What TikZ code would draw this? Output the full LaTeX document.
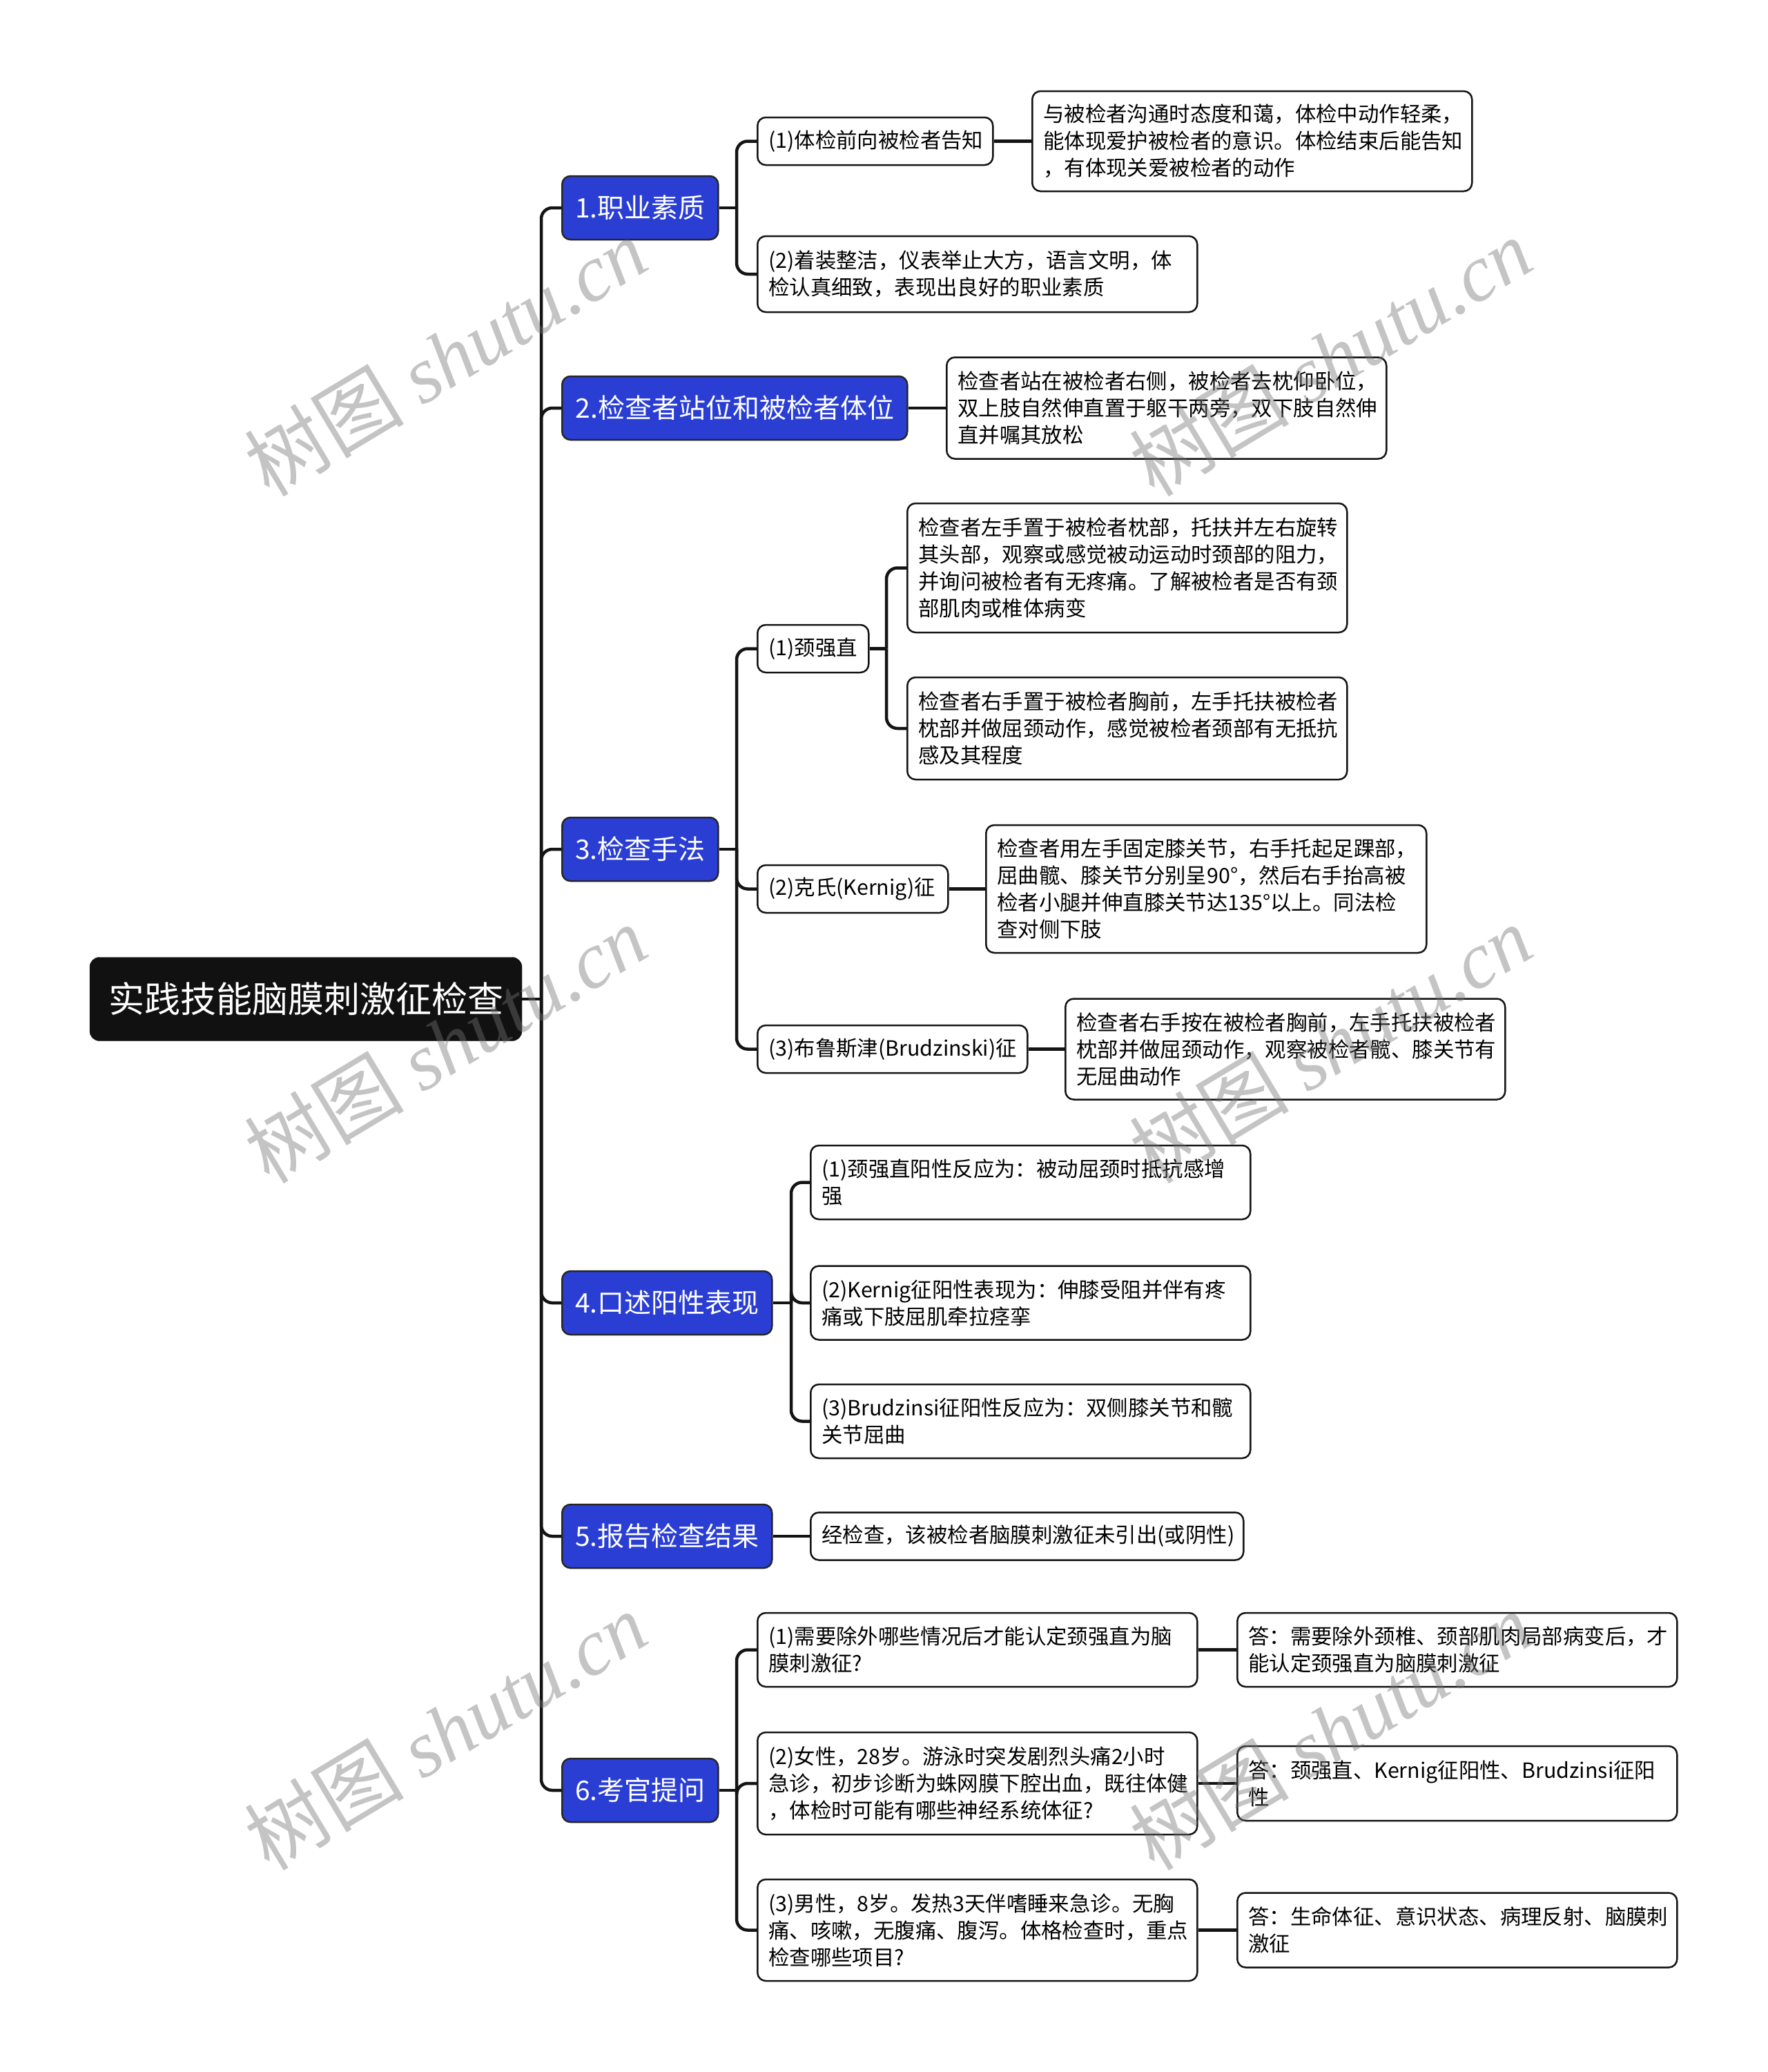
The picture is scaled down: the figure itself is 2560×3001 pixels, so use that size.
\documentclass[tikz,border=0pt]{standalone}
\usepackage{fontspec}
\usetikzlibrary{backgrounds}
\setmainfont{Noto Sans CJK SC}
\newfontfamily\wmserif{Liberation Serif}
\newfontfamily\wmcjk{Noto Sans CJK SC}
\definecolor{blueN}{RGB}{42,62,212}
\definecolor{rootc}{RGB}{17,17,17}
\definecolor{linec}{RGB}{20,20,20}
\tikzset{
  conn/.style={line width=4.5pt, draw=linec, rounded corners=16pt},
  wbox/.style={draw=linec, line width=2.5pt, fill=white, rounded corners=12pt,
    align=left, inner xsep=16pt, inner ysep=0pt, anchor=west,
    font=\fontsize{30.4}{39}\selectfont},
  bbox/.style={draw=black!85, line width=2.5pt, fill=blueN, rounded corners=12pt,
    text=white, inner sep=0pt, anchor=west, minimum height=92pt,
    font=\fontsize{39}{47}\selectfont},
  wmark/.style={rotate=31, text=black!55, opacity=0.42, inner sep=0pt},
}
\begin{document}
\begin{tikzpicture}[x=1pt,y=-1pt]
\path[use as bounding box] (0,0) rectangle (2560,3001);

% root
\node[draw=rootc, fill=rootc, rounded corners=14pt, minimum width=626pt,
  minimum height=121pt, inner sep=0pt, text=white,
  font=\fontsize{52}{62}\selectfont] (root) at (443,1447) {实践技能脑膜刺激征检查};

% level 1
\node[bbox, minimum width=226pt] (n1) at (813,301) {1.职业素质};
\node[bbox, minimum width=500pt] (n2) at (813,591) {2.检查者站位和被检者体位};
\node[bbox, minimum width=226pt] (n3) at (813,1230) {3.检查手法};
\node[bbox, minimum width=304pt] (n4) at (813,1887) {4.口述阳性表现};
\node[bbox, minimum width=304pt] (n5) at (813,2225) {5.报告检查结果};
\node[bbox, minimum width=226pt] (n6) at (813,2593) {6.考官提问};

% branch 1
\node[wbox, minimum width=341pt, text width=309pt, minimum height=69pt] (a11) at (1096,204.5) {(1)体检前向被检者告知};
\node[wbox, minimum width=637pt, text width=605pt, minimum height=145pt] (a111) at (1494,204.5) {与被检者沟通时态度和蔼，体检中动作轻柔，\\能体现爱护被检者的意识。体检结束后能告知\\，有体现关爱被检者的动作};
\node[wbox, minimum width=637pt, text width=605pt, minimum height=110pt] (a12) at (1096,397) {(2)着装整洁，仪表举止大方，语言文明，体\\检认真细致，表现出良好的职业素质};

% branch 2
\node[wbox, minimum width=637pt, text width=605pt, minimum height=147pt] (a21) at (1370,591) {检查者站在被检者右侧，被检者去枕仰卧位，\\双上肢自然伸直置于躯干两旁，双下肢自然伸\\直并嘱其放松};

% branch 3
\node[wbox, minimum width=161pt, text width=129pt, minimum height=69pt] (a31) at (1096,939.5) {(1)颈强直};
\node[wbox, minimum width=637pt, text width=605pt, minimum height=187pt] (a311) at (1313,822.5) {检查者左手置于被检者枕部，托扶并左右旋转\\其头部，观察或感觉被动运动时颈部的阻力，\\并询问被检者有无疼痛。了解被检者是否有颈\\部肌肉或椎体病变};
\node[wbox, minimum width=637pt, text width=605pt, minimum height=148pt] (a312) at (1313,1055) {检查者右手置于被检者胸前，左手托扶被检者\\枕部并做屈颈动作，感觉被检者颈部有无抵抗\\感及其程度};
\node[wbox, minimum width=276pt, text width=244pt, minimum height=69pt] (a32) at (1096,1287.5) {(2)克氏(Kernig)征};
\node[wbox, minimum width=638pt, text width=606pt, minimum height=185pt] (a321) at (1427,1287.5) {检查者用左手固定膝关节，右手托起足踝部，\\屈曲髋、膝关节分别呈90°，然后右手抬高被\\检者小腿并伸直膝关节达135°以上。同法检\\查对侧下肢};
\node[wbox, minimum width=391pt, text width=359pt, minimum height=69pt] (a33) at (1096,1519.5) {(3)布鲁斯津(Brudzinski)征};
\node[wbox, minimum width=637pt, text width=605pt, minimum height=146pt] (a331) at (1542,1519.5) {检查者右手按在被检者胸前，左手托扶被检者\\枕部并做屈颈动作，观察被检者髋、膝关节有\\无屈曲动作};

% branch 4
\node[wbox, minimum width=637pt, text width=605pt, minimum height=107pt] (a41) at (1173,1712.5) {(1)颈强直阳性反应为：被动屈颈时抵抗感增\\强};
\node[wbox, minimum width=637pt, text width=605pt, minimum height=107pt] (a42) at (1173,1887) {(2)Kernig征阳性表现为：伸膝受阻并伴有疼\\痛或下肢屈肌牵拉痉挛};
\node[wbox, minimum width=637pt, text width=605pt, minimum height=107pt] (a43) at (1173,2058.5) {(3)Brudzinsi征阳性反应为：双侧膝关节和髋\\关节屈曲};

% branch 5
\node[wbox, minimum width=627pt, text width=595pt, minimum height=69pt] (a51) at (1173,2225) {经检查，该被检者脑膜刺激征未引出(或阴性)};

% branch 6
\node[wbox, minimum width=637pt, text width=605pt, minimum height=107pt] (a61) at (1096,2389.5) {(1)需要除外哪些情况后才能认定颈强直为脑\\膜刺激征?};
\node[wbox, minimum width=637pt, text width=605pt, minimum height=107pt] (a611) at (1791,2389.5) {答：需要除外颈椎、颈部肌肉局部病变后，才\\能认定颈强直为脑膜刺激征};
\node[wbox, minimum width=637pt, text width=605pt, minimum height=148pt] (a62) at (1096,2583) {(2)女性，28岁。游泳时突发剧烈头痛2小时\\急诊，初步诊断为蛛网膜下腔出血，既往体健\\，体检时可能有哪些神经系统体征?};
\node[wbox, minimum width=637pt, text width=605pt, minimum height=108pt] (a621) at (1791,2583) {答：颈强直、Kernig征阳性、Brudzinsi征阳\\性};
\node[wbox, minimum width=637pt, text width=605pt, minimum height=147pt] (a63) at (1096,2795.5) {(3)男性，8岁。发热3天伴嗜睡来急诊。无胸\\痛、咳嗽，无腹痛、腹泻。体格检查时，重点\\检查哪些项目?};
\node[wbox, minimum width=637pt, text width=605pt, minimum height=108pt] (a631) at (1791,2795.5) {答：生命体征、意识状态、病理反射、脑膜刺\\激征};

% junction coordinates
\coordinate (t0) at (784,1447);
\coordinate (b1) at (1067,301);
\coordinate (b3) at (1067,1230);
\coordinate (b31) at (1284,939.5);
\coordinate (b4) at (1146,1887);
\coordinate (b6) at (1067,2593);

% connectors (behind boxes)
\begin{scope}[on background layer]
\fill[white] (0,0) rectangle (2560,3001);
\draw[conn] (root.east) -- (t0);
\foreach \n in {n1,n2,n3,n4,n5,n6} { \draw[conn] (t0) |- (\n.west); }
\draw[conn] (n1.east) -- (b1);
\foreach \c in {a11,a12} { \draw[conn] (b1) |- (\c.west); }
\draw[conn] (a11.east) -- (a111.west);
\draw[conn] (n2.east) -- (a21.west);
\draw[conn] (n3.east) -- (b3);
\foreach \c in {a31,a32,a33} { \draw[conn] (b3) |- (\c.west); }
\draw[conn] (a31.east) -- (b31);
\foreach \c in {a311,a312} { \draw[conn] (b31) |- (\c.west); }
\draw[conn] (a32.east) -- (a321.west);
\draw[conn] (a33.east) -- (a331.west);
\draw[conn] (n4.east) -- (b4);
\foreach \c in {a41,a42,a43} { \draw[conn] (b4) |- (\c.west); }
\draw[conn] (n5.east) -- (a51.west);
\draw[conn] (n6.east) -- (b6);
\foreach \c in {a61,a62,a63} { \draw[conn] (b6) |- (\c.west); }
\draw[conn] (a61.east) -- (a611.west);
\draw[conn] (a62.east) -- (a621.west);
\draw[conn] (a63.east) -- (a631.west);
\end{scope}

% watermarks
\foreach \wx/\wy [count=\i] in {645/517, 1927/517, 645/1512, 1927/1512, 645/2507, 1927/2507} {
  \node[wmark] (wm\i) at (\wx,\wy) {\fontsize{116}{120}\selectfont\wmcjk 树图 \wmserif\itshape shutu.cn};
}
\end{tikzpicture}
\end{document}
